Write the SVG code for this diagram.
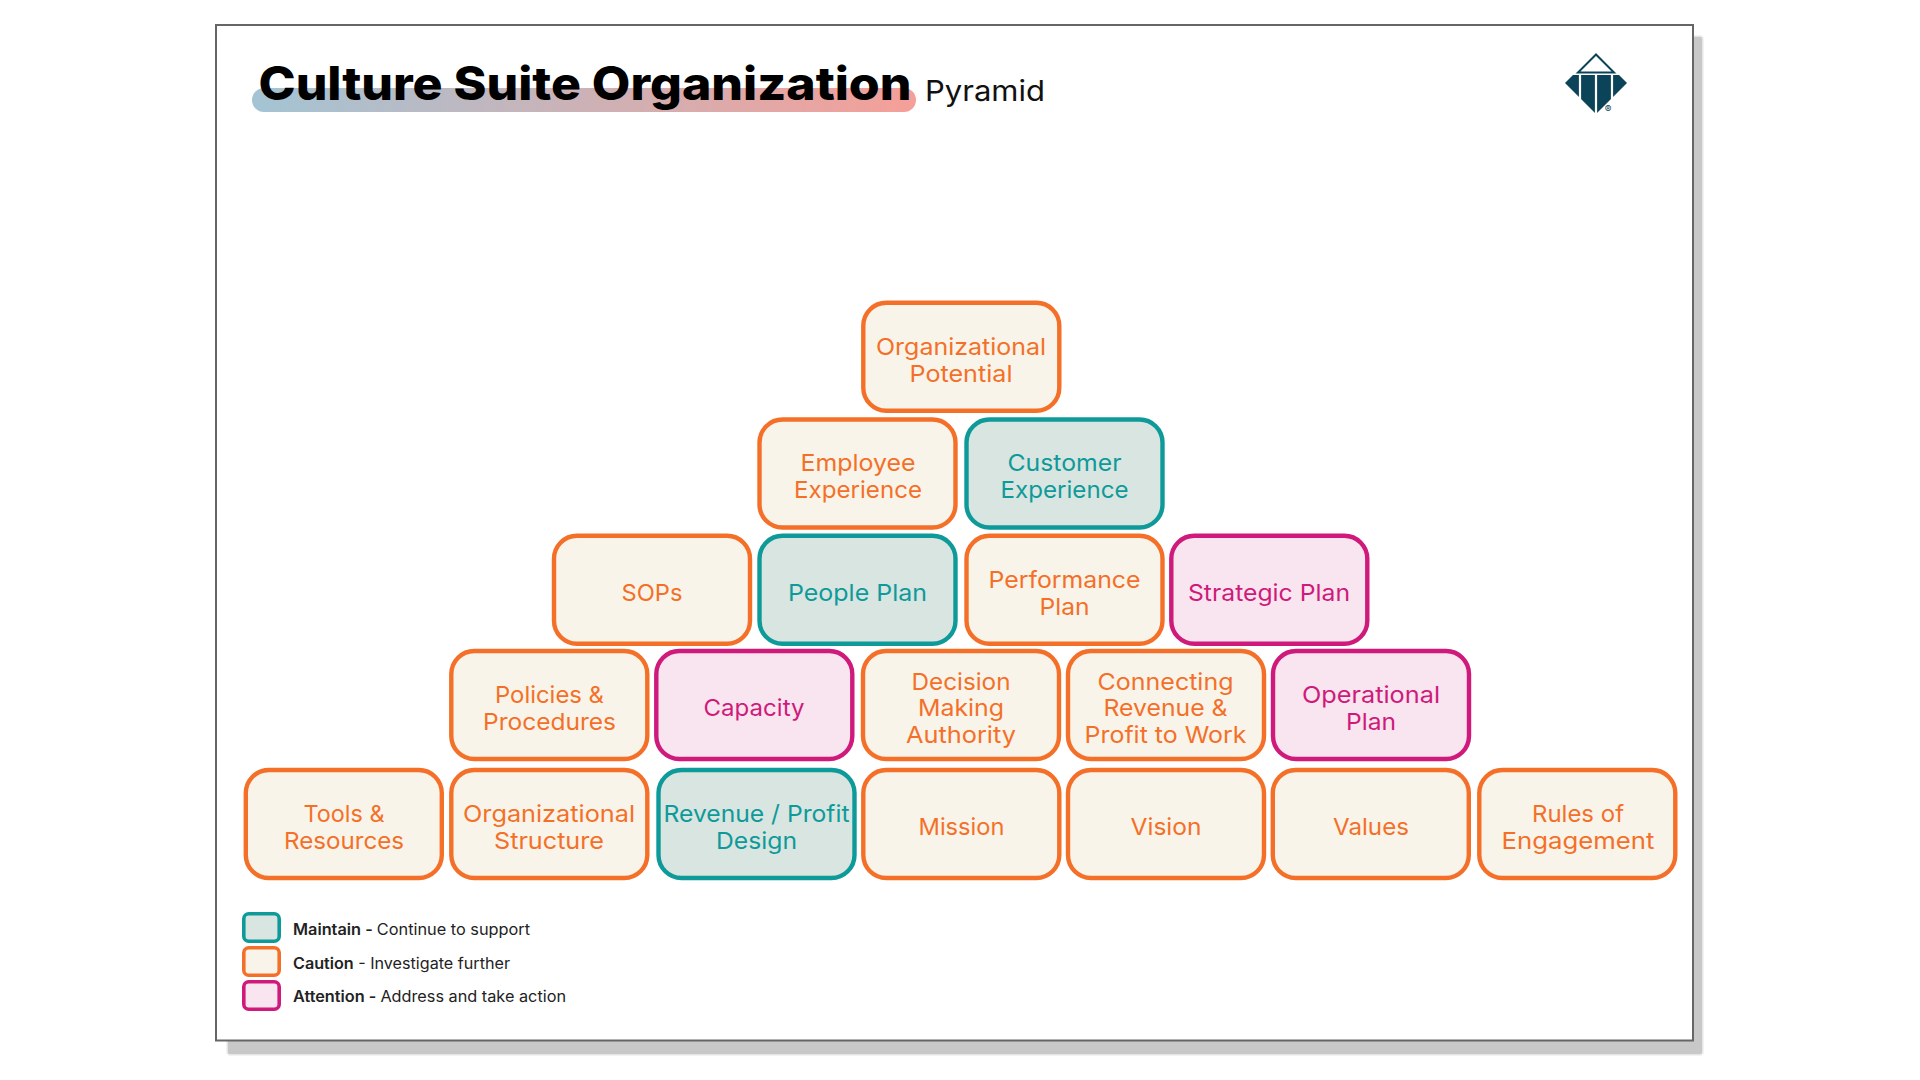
<svg xmlns="http://www.w3.org/2000/svg" width="1920" height="1080" viewBox="0 0 1920 1080">
<style>
text{font-family:Inter,"Liberation Sans",sans-serif}
.n text{font-size:23.5px;font-weight:400;text-anchor:middle}
.n rect{stroke-width:4.4;width:196px;height:108px;rx:23px;ry:23px}
.m rect{fill:#d8e5e1;stroke:#0f9a9a}.m text{fill:#0f9a9a}
.c rect{fill:#f8f4ea;stroke:#f47028}.c text{fill:#f47028}
.a rect{fill:#f8e5ef;stroke:#cf1a7b}.a text{fill:#cf1a7b}
.l text{font-size:15.5px;fill:#222;font-weight:400}
.l rect{stroke-width:3.6}
.b{font-weight:600}
</style>
<defs>
<linearGradient id="g"><stop offset="0" stop-color="#a3c4d4"/><stop offset="1" stop-color="#f59f98"/></linearGradient>
</defs>
<rect width="1920" height="1080" fill="#fff"/>
<rect x="227" y="36" width="1476" height="1019" rx="3" fill="#c8c8c8" stroke="#eee" stroke-width="1.5"/>
<rect x="216" y="25" width="1477" height="1015.5" fill="#fff" stroke="#666" stroke-width="2"/>
<g id="title">
<rect x="252" y="88" width="664" height="24" rx="12" fill="url(#g)"/>
<text x="258.5" y="100" font-size="46" font-weight="800" fill="#000" textLength="653" lengthAdjust="spacingAndGlyphs">Culture Suite Organization</text>
<text x="925" y="100.5" font-size="29" font-weight="400" fill="#111" textLength="120" lengthAdjust="spacingAndGlyphs">Pyramid</text>
</g>
<g id="logo">
<polygon points="1596,54.5 1578,72.5 1614,72.5" fill="none" stroke="#0b4358" stroke-width="2"/>
<polygon points="1573,75 1619,75 1627,83 1596,114 1565,83" fill="#0b4358"/>
<path d="M1580 74V100M1596 74V115M1612 74V100" stroke="#fff" stroke-width="2.2"/>
<text x="1608" y="113" font-size="10" text-anchor="middle" fill="#0b4358">®</text>
</g>
<g id="connectors"/>
<g id="organizational-potential" class="n c"><rect x="863.3" y="302.8"/><text x="961" y="354.5" textLength="170" lengthAdjust="spacingAndGlyphs">Organizational</text><text x="961" y="381.5" textLength="103" lengthAdjust="spacingAndGlyphs">Potential</text></g>
<g id="employee-experience" class="n c"><rect x="759.5" y="419.5"/><text x="858" y="471" textLength="115" lengthAdjust="spacingAndGlyphs">Employee</text><text x="858" y="498" textLength="128" lengthAdjust="spacingAndGlyphs">Experience</text></g>
<g id="customer-experience" class="n m"><rect x="966.5" y="419.5"/><text x="1064.5" y="471" textLength="114" lengthAdjust="spacingAndGlyphs">Customer</text><text x="1064.5" y="498" textLength="128" lengthAdjust="spacingAndGlyphs">Experience</text></g>
<g id="sops" class="n c"><rect x="554" y="535.8"/><text x="652" y="600.5" textLength="61" lengthAdjust="spacingAndGlyphs">SOPs</text></g>
<g id="people-plan" class="n m"><rect x="759.5" y="535.8"/><text x="857.5" y="600.5" textLength="139" lengthAdjust="spacingAndGlyphs">People Plan</text></g>
<g id="performance-plan" class="n c"><rect x="966.5" y="535.8"/><text x="1064.5" y="587.5" textLength="152" lengthAdjust="spacingAndGlyphs">Performance</text><text x="1064.5" y="614.5" textLength="50" lengthAdjust="spacingAndGlyphs">Plan</text></g>
<g id="strategic-plan" class="n a"><rect x="1171.3" y="535.8"/><text x="1269" y="600.5" textLength="162" lengthAdjust="spacingAndGlyphs">Strategic Plan</text></g>
<g id="policies-procedures" class="n c"><rect x="451.3" y="651"/><text x="549.5" y="702.5" textLength="109" lengthAdjust="spacingAndGlyphs">Policies &amp;</text><text x="549.5" y="729.5" textLength="133" lengthAdjust="spacingAndGlyphs">Procedures</text></g>
<g id="capacity" class="n a"><rect x="656.3" y="651"/><text x="754" y="716" textLength="101" lengthAdjust="spacingAndGlyphs">Capacity</text></g>
<g id="decision-making-authority" class="n c"><rect x="863" y="651"/><text x="961" y="689.5" textLength="99" lengthAdjust="spacingAndGlyphs">Decision</text><text x="961" y="716.2" textLength="86" lengthAdjust="spacingAndGlyphs">Making</text><text x="961" y="743" textLength="110" lengthAdjust="spacingAndGlyphs">Authority</text></g>
<g id="connecting-revenue" class="n c"><rect x="1068" y="651"/><text x="1165.5" y="689.5" textLength="136" lengthAdjust="spacingAndGlyphs">Connecting</text><text x="1165.5" y="716.2" textLength="124" lengthAdjust="spacingAndGlyphs">Revenue &amp;</text><text x="1165.5" y="743" textLength="162" lengthAdjust="spacingAndGlyphs">Profit to Work</text></g>
<g id="operational-plan" class="n a"><rect x="1273" y="651"/><text x="1371" y="702.5" textLength="138" lengthAdjust="spacingAndGlyphs">Operational</text><text x="1371" y="729.5" textLength="50" lengthAdjust="spacingAndGlyphs">Plan</text></g>
<g id="tools-resources" class="n c"><rect x="245.8" y="770"/><text x="344" y="821.7" textLength="81" lengthAdjust="spacingAndGlyphs">Tools &amp;</text><text x="344" y="848.5" textLength="120" lengthAdjust="spacingAndGlyphs">Resources</text></g>
<g id="organizational-structure" class="n c"><rect x="451.3" y="770"/><text x="549" y="821.7" textLength="172" lengthAdjust="spacingAndGlyphs">Organizational</text><text x="549" y="848.5" textLength="110" lengthAdjust="spacingAndGlyphs">Structure</text></g>
<g id="revenue-profit-design" class="n m"><rect x="658.5" y="770"/><text x="756.5" y="821.7" textLength="186" lengthAdjust="spacingAndGlyphs">Revenue / Profit</text><text x="756.5" y="848.5" textLength="81" lengthAdjust="spacingAndGlyphs">Design</text></g>
<g id="mission" class="n c"><rect x="863.3" y="770"/><text x="961.5" y="835" textLength="86" lengthAdjust="spacingAndGlyphs">Mission</text></g>
<g id="vision" class="n c"><rect x="1068" y="770"/><text x="1166" y="835" textLength="71" lengthAdjust="spacingAndGlyphs">Vision</text></g>
<g id="values" class="n c"><rect x="1272.8" y="770"/><text x="1371" y="835" textLength="76" lengthAdjust="spacingAndGlyphs">Values</text></g>
<g id="rules-of-engagement" class="n c"><rect x="1479.3" y="770"/><text x="1578" y="821.7" textLength="92" lengthAdjust="spacingAndGlyphs">Rules of</text><text x="1578" y="848.5" textLength="153" lengthAdjust="spacingAndGlyphs">Engagement</text></g>
<g id="legend-maintain" class="l m"><rect x="243.8" y="913.8" width="35.4" height="27.4" rx="5"/><text x="293" y="934.7" textLength="237" lengthAdjust="spacingAndGlyphs"><tspan class="b">Maintain - </tspan>Continue to support</text></g>
<g id="legend-caution" class="l c"><rect x="243.8" y="947.8" width="35.4" height="27.4" rx="5"/><text x="293" y="968.7" textLength="217" lengthAdjust="spacingAndGlyphs"><tspan class="b">Caution</tspan> - Investigate further</text></g>
<g id="legend-attention" class="l a"><rect x="243.8" y="981.8" width="35.4" height="27.4" rx="5"/><text x="293" y="1002" textLength="273" lengthAdjust="spacingAndGlyphs"><tspan class="b">Attention - </tspan>Address and take action</text></g>
</svg>
